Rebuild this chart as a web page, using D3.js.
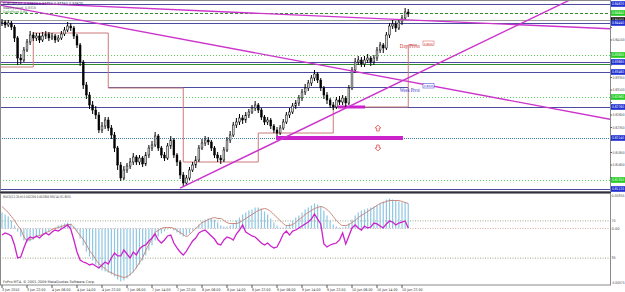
<!DOCTYPE html>
<html><head><meta charset="utf-8">
<script src="https://cdn.jsdelivr.net/npm/d3@7"></script>
<style>body{margin:0;background:#fff;overflow:hidden}svg{display:block;font-family:"DejaVu Sans Condensed","DejaVu Sans",sans-serif}</style>
</head><body><svg id="c" width="625" height="292"></svg>
<script>
const timeLabels = ["3 Jun 2010","3 Jun 22:00","4 Jun 06:00","4 Jun 14:00","4 Jun 22:00","7 Jun 06:00","7 Jun 14:00","7 Jun 22:00","8 Jun 06:00","8 Jun 14:00","8 Jun 22:00","9 Jun 06:00","9 Jun 14:00","9 Jun 22:00","10 Jun 06:00","10 Jun 14:00","10 Jun 22:00"];
const firstOpen = 0.8444;
const closes = [0.8446,0.8440,0.8444,0.8436,0.8414,0.8374,0.8370,0.8390,0.8406,0.8420,
0.8414,0.8418,0.8410,0.8418,0.8422,0.8414,0.8418,0.8410,0.8414,0.8422,
0.8430,0.8438,0.8434,0.8418,0.8400,0.8366,0.8320,0.8300,0.8280,0.8270,
0.8260,0.8230,0.8238,0.8250,0.8234,0.8220,0.8194,0.8160,0.8134,0.8150,
0.8158,0.8166,0.8176,0.8166,0.8174,0.8162,0.8180,0.8194,0.8200,0.8218,
0.8194,0.8180,0.8174,0.8198,0.8210,0.8180,0.8166,0.8140,0.8124,0.8134,
0.8150,0.8160,0.8170,0.8194,0.8204,0.8210,0.8206,0.8194,0.8180,0.8174,
0.8170,0.8190,0.8210,0.8220,0.8240,0.8246,0.8254,0.8250,0.8260,0.8266,
0.8274,0.8280,0.8270,0.8256,0.8246,0.8250,0.8238,0.8230,0.8224,0.8234,
0.8246,0.8260,0.8266,0.8278,0.8284,0.8294,0.8306,0.8314,0.8324,0.8334,
0.8342,0.8330,0.8314,0.8300,0.8290,0.8280,0.8276,0.8290,0.8286,0.8294,
0.8284,0.8314,0.8350,0.8366,0.8370,0.8362,0.8370,0.8374,0.8366,0.8374,
0.8390,0.8400,0.8394,0.8420,0.8438,0.8442,0.8434,0.8446,0.8454,0.8466,
0.8462];
const highs = [0.8452,0.8450,0.8450,0.8448,0.8440,0.8418,0.8382,0.8396,0.8412,0.8428,
0.8426,0.8424,0.8424,0.8426,0.8428,0.8426,0.8424,0.8422,0.8420,0.8428,
0.8436,0.8446,0.8444,0.8438,0.8422,0.8404,0.8370,0.8326,0.8306,0.8288,
0.8278,0.8266,0.8246,0.8256,0.8256,0.8240,0.8226,0.8198,0.8166,0.8158,
0.8164,0.8174,0.8184,0.8180,0.8180,0.8178,0.8186,0.8200,0.8208,0.8226,
0.8222,0.8198,0.8186,0.8204,0.8218,0.8214,0.8184,0.8170,0.8146,0.8140,
0.8156,0.8166,0.8178,0.8200,0.8212,0.8218,0.8216,0.8210,0.8198,0.8186,
0.8180,0.8196,0.8216,0.8228,0.8246,0.8254,0.8262,0.8260,0.8266,0.8272,
0.8280,0.8288,0.8284,0.8274,0.8260,0.8256,0.8254,0.8242,0.8236,0.8240,
0.8252,0.8266,0.8274,0.8284,0.8290,0.8300,0.8312,0.8322,0.8330,0.8340,
0.8350,0.8346,0.8334,0.8318,0.8306,0.8294,0.8286,0.8296,0.8298,0.8300,
0.8298,0.8320,0.8356,0.8374,0.8378,0.8376,0.8378,0.8382,0.8378,0.8380,
0.8396,0.8406,0.8404,0.8426,0.8444,0.8450,0.8448,0.8452,0.8460,0.8474,
0.8472];
const lows = [0.8438,0.8434,0.8436,0.8430,0.8406,0.8360,0.8362,0.8366,0.8386,0.8400,
0.8408,0.8408,0.8404,0.8406,0.8412,0.8408,0.8410,0.8404,0.8406,0.8410,
0.8418,0.8426,0.8428,0.8412,0.8394,0.8358,0.8312,0.8292,0.8272,0.8262,
0.8252,0.8224,0.8224,0.8232,0.8228,0.8212,0.8186,0.8150,0.8128,0.8130,
0.8144,0.8152,0.8160,0.8160,0.8160,0.8156,0.8158,0.8174,0.8188,0.8196,
0.8188,0.8174,0.8168,0.8170,0.8192,0.8174,0.8158,0.8132,0.8118,0.8120,
0.8130,0.8146,0.8154,0.8166,0.8190,0.8198,0.8200,0.8188,0.8174,0.8166,
0.8162,0.8166,0.8186,0.8204,0.8216,0.8234,0.8240,0.8242,0.8244,0.8254,
0.8262,0.8268,0.8264,0.8250,0.8240,0.8240,0.8232,0.8224,0.8218,0.8220,
0.8230,0.8242,0.8254,0.8262,0.8272,0.8278,0.8288,0.8300,0.8308,0.8318,
0.8328,0.8324,0.8308,0.8292,0.8282,0.8274,0.8270,0.8272,0.8280,0.8280,
0.8276,0.8280,0.8310,0.8344,0.8360,0.8356,0.8356,0.8364,0.8358,0.8360,
0.8368,0.8384,0.8384,0.8390,0.8414,0.8432,0.8426,0.8430,0.8440,0.8450,
0.8456];
const macdMain = [0.0016,0.0014,0.0012,0.0008,0.0003,-0.0003,-0.0008,-0.0012,-0.0014,-0.0013,
-0.0011,-0.0009,-0.0007,-0.0006,-0.0004,-0.0003,-0.0001,0.0001,0.0003,0.0004,
0.0005,0.0006,0.0005,0.0002,-0.0003,-0.0010,-0.0017,-0.0023,-0.0028,-0.0032,
-0.0036,-0.0040,-0.0042,-0.0043,-0.0044,-0.0046,-0.0048,-0.0051,-0.0053,-0.0052,
-0.0050,-0.0047,-0.0044,-0.0040,-0.0036,-0.0032,-0.0027,-0.0022,-0.0017,-0.0012,
-0.0008,-0.0005,-0.0003,-0.0001,0.0000,-0.0002,-0.0004,-0.0006,-0.0008,-0.0007,
-0.0005,-0.0002,0.0001,0.0004,0.0007,0.0009,0.0010,0.0010,0.0009,0.0006,
0.0003,0.0002,0.0002,0.0003,0.0005,0.0008,0.0011,0.0014,0.0016,0.0018,
0.0019,0.0021,0.0021,0.0020,0.0017,0.0014,0.0010,0.0006,0.0003,0.0001,
0.0001,0.0003,0.0005,0.0008,0.0011,0.0013,0.0016,0.0019,0.0021,0.0023,
0.0025,0.0024,0.0022,0.0018,0.0013,0.0008,0.0004,0.0002,0.0001,0.0001,
0.0002,0.0005,0.0009,0.0013,0.0016,0.0018,0.0019,0.0020,0.0021,0.0022,
0.0023,0.0025,0.0027,0.0029,0.0030,0.0029,0.0028,0.0027,0.0026,0.0026,
0.0025];
const macdSignal = [0.0022,0.0019,0.0016,0.0012,0.0008,0.0003,-0.0001,-0.0008,-0.0012,-0.0011,
-0.0010,-0.0008,-0.0007,-0.0006,-0.0004,-0.0003,-0.0001,0.0000,0.0001,0.0002,
0.0003,0.0004,0.0004,0.0001,-0.0003,-0.0007,-0.0011,-0.0016,-0.0022,-0.0026,
-0.0031,-0.0035,-0.0038,-0.0040,-0.0043,-0.0044,-0.0046,-0.0047,-0.0048,-0.0049,
-0.0048,-0.0046,-0.0043,-0.0039,-0.0034,-0.0029,-0.0022,-0.0016,-0.0010,-0.0004,
-0.0002,0.0000,0.0001,0.0001,0.0001,0.0000,-0.0002,-0.0004,-0.0006,-0.0008,
-0.0006,-0.0003,0.0000,0.0003,0.0006,0.0007,0.0009,0.0010,0.0011,0.0010,
0.0010,0.0008,0.0006,0.0005,0.0005,0.0005,0.0006,0.0008,0.0010,0.0012,
0.0014,0.0016,0.0018,0.0019,0.0020,0.0019,0.0017,0.0014,0.0011,0.0008,
0.0005,0.0003,0.0003,0.0004,0.0006,0.0009,0.0011,0.0014,0.0016,0.0018,
0.0020,0.0021,0.0022,0.0021,0.0019,0.0016,0.0012,0.0008,0.0005,0.0003,
0.0003,0.0004,0.0006,0.0008,0.0011,0.0013,0.0015,0.0017,0.0019,0.0021,
0.0023,0.0025,0.0026,0.0027,0.0028,0.0028,0.0028,0.0028,0.0027,0.0026,
0.0025];
const rsi = [54.8,57.0,55.9,53.8,44.1,30.1,31.2,40.9,49.5,52.7,
51.6,53.8,51.6,54.8,57.0,54.8,58.1,60.2,59.1,61.3,
63.4,65.6,61.3,49.5,36.6,28.0,25.8,24.7,22.6,23.7,
21.5,19.4,22.6,25.8,23.7,30.1,35.5,32.3,32.3,38.7,
34.4,30.1,36.6,33.3,39.8,43.0,44.1,48.4,51.6,55.9,
49.5,46.2,49.5,53.8,54.8,46.2,40.9,36.6,33.3,37.6,
43.0,48.4,51.6,57.0,59.1,60.2,57.0,53.8,50.5,45.2,
44.1,49.5,52.7,51.6,49.5,55.9,60.2,65.6,58.1,55.9,
53.8,52.7,49.5,46.2,44.1,46.2,43.0,40.9,41.9,48.4,
55.9,59.1,54.8,59.1,60.2,62.4,64.5,66.7,68.8,72.0,
77.4,72.0,66.7,45.2,41.9,44.1,45.2,46.2,49.5,57.0,
45.2,53.8,62.4,65.6,62.4,60.2,64.5,62.4,63.4,67.7,
66.7,64.5,62.4,66.7,69.9,68.8,65.6,67.7,68.8,69.9,
62.4];
const priceTicks = [0.8435,0.8410,0.8385,0.8360,0.8335,0.8310,0.8285,0.8260,0.8235,0.8210,0.8185,0.8160,0.8135];
const levelPrices = [0.8482,0.8464,0.8450,0.8444,0.8380,0.8366,0.8362,0.8346,0.8296,0.8276,0.8214,0.8130,0.8112];
const levelKinds = ["res","dash","bid","res","dot","res","solid","res","dot","res","teal","dot","res"];
const dayStarts = [0,10,34,58,82,106,130];
const dayPivots = [0.8356,0.8424,0.8314,0.8166,0.8224,0.8276,0.8400];
const weekPivot = 0.8316;
const trendA = [[0,0.8486],[160,0.8442]];
const trendB = [[0,0.8479],[160,0.8292]];
const trendC = [[58,0.8117],[122,0.8310]];
const zonePrices = [0.8276,0.8214];
const zoneFrom = [107.5,87.7];
const zoneTo = [116.2,128.3];
const arrowBar = 120.3;
const arrowUpPrice = 0.8234, arrowDownPrice = 0.8194;
const indLevels = [70,30];

const svg = d3.select("#c");
const W = 610;
const x = d3.scaleLinear().domain([0,130]).range([2,408.25]);
const yP = d3.scaleLinear().domain([0.8490,0.8106]).range([0,192]);
const yM = d3.scaleLinear().domain([0.00355,-0.00575]).range([193,286]);
const yR = d3.scaleLinear().domain([100,0]).range([193,286]);

const defs = svg.append("defs");
defs.append("clipPath").attr("id","cm").append("rect").attr("x",0).attr("y",1).attr("width",W).attr("height",191);
defs.append("clipPath").attr("id","ci").append("rect").attr("x",0).attr("y",193).attr("width",W).attr("height",92);

const gm = svg.append("g").attr("clip-path","url(#cm)");
const gi = svg.append("g").attr("clip-path","url(#ci)");

const lvStyle = {
  res:{c:"#4b4ba0",w:1,d:null},
  dash:{c:"#2e8b2e",w:1,d:"3,2"},
  bid:{c:"#a0a0a0",w:1,d:null},
  dot:{c:"#5ccf5c",w:1,d:"1,2"},
  solid:{c:"#2e8b2e",w:1,d:null},
  teal:{c:"#3f7f9f",w:1,d:"1,1"}
};
levelPrices.forEach((p,k)=>{
  const s = lvStyle[levelKinds[k]];
  gm.append("line").attr("x1",0).attr("x2",W).attr("y1",Math.round(yP(p))+0.5).attr("y2",Math.round(yP(p))+0.5)
    .attr("stroke",s.c).attr("stroke-width",s.w).attr("stroke-dasharray",s.d);
});

gm.append("line").attr("x1",x(34)).attr("x2",x(130)).attr("y1",Math.round(yP(weekPivot))+0.5).attr("y2",Math.round(yP(weekPivot))+0.5)
  .attr("stroke","#4b4ba0").attr("stroke-width",1);

const stepPts = [];
dayPivots.forEach((p,k)=>{
  const xs = k===0 ? 0 : x(dayStarts[k]);
  const xe = k<dayPivots.length-1 ? x(dayStarts[k+1]) : x(dayStarts[k])+9;
  stepPts.push([xs,yP(p)],[xe,yP(p)]);
});
gm.append("path").attr("d",d3.line()(stepPts)).attr("fill","none").attr("stroke","#cc7a7a").attr("stroke-width",1);

zonePrices.forEach((p,k)=>{
  gm.append("line").attr("x1",x(zoneFrom[k])).attr("x2",x(zoneTo[k])).attr("y1",yP(p)).attr("y2",yP(p))
    .attr("stroke","#cc22cc").attr("stroke-width",k===0?3:4);
});

const opens = [firstOpen].concat(closes.slice(0,-1));
const cg = gm.append("g");
closes.forEach((c,i)=>{
  const o = opens[i];
  cg.append("line").attr("x1",x(i)).attr("x2",x(i)).attr("y1",yP(highs[i])).attr("y2",yP(lows[i]))
    .attr("stroke","#000").attr("stroke-width",1);
  const top = yP(Math.max(o,c)), bot = yP(Math.min(o,c));
  cg.append("rect").attr("x",x(i)-0.9).attr("width",1.8).attr("y",top).attr("height",Math.max(1,bot-top))
    .attr("fill", c>=o ? "#ddd" : "#000").attr("stroke","#000").attr("stroke-width",0.5);
});

function trend(anchors, i0, i1){
  const f = d3.scaleLinear().domain([anchors[0][0],anchors[1][0]]).range([anchors[0][1],anchors[1][1]]);
  gm.append("line").attr("x1",x(i0)).attr("y1",yP(f(i0))).attr("x2",x(i1)).attr("y2",yP(f(i1)))
    .attr("stroke","#cc33cc").attr("stroke-width",1.4);
}
trend(trendA,-1,200);
trend(trendB,-1,200);
trend(trendC,57,200);

function arrow(cx, cy, up){
  const s = up?-1:1;
  const pts = [[cx-1.3,cy-3*s],[cx+1.3,cy-3*s],[cx+1.3,cy],[cx+3,cy],[cx,cy+3*s],[cx-3,cy],[cx-1.3,cy]];
  gm.append("path").attr("d",d3.line()(pts)+"Z").attr("fill","#fff").attr("stroke","#e05050").attr("stroke-width",0.8);
}
arrow(x(arrowBar), yP(arrowUpPrice), true);
arrow(x(arrowBar), yP(arrowDownPrice), false);

// pivot labels
gm.append("text").attr("x",x(127.3)).attr("y",yP(dayPivots[6])+3).attr("font-family","Liberation Serif").attr("font-size",5.5)
  .attr("fill","#cc3333").attr("textLength",20).attr("lengthAdjust","spacingAndGlyphs").text("Day Pivot");
gm.append("rect").attr("x",423).attr("y",yP(dayPivots[6])-4).attr("width",11).attr("height",4.5).attr("fill","#fff").attr("stroke","#e07070").attr("stroke-width",0.6);
gm.append("text").attr("x",424).attr("y",yP(dayPivots[6])-0.3).attr("font-size",2.8).attr("fill","#cc3333").attr("textLength",9).attr("lengthAdjust","spacingAndGlyphs").text("0.8400");
gm.append("text").attr("x",x(127.3)).attr("y",yP(weekPivot)+4.5).attr("font-family","Liberation Serif").attr("font-size",5.5)
  .attr("fill","#3333cc").attr("textLength",20).attr("lengthAdjust","spacingAndGlyphs").text("Week Pivot");
gm.append("rect").attr("x",423).attr("y",yP(weekPivot)-3.5).attr("width",11).attr("height",4.5).attr("fill","#fff").attr("stroke","#5555dd").attr("stroke-width",0.6);
gm.append("text").attr("x",424).attr("y",yP(weekPivot)+0.2).attr("font-size",2.8).attr("fill","#3333cc").attr("textLength",9).attr("lengthAdjust","spacingAndGlyphs").text("0.8316");

gm.append("text").attr("x",3).attr("y",5).attr("font-size",4).attr("fill","#202060").attr("textLength",80).attr("lengthAdjust","spacingAndGlyphs").text("EURGBP,H1  0.84620 0.84720 0.84560 0.84620");
gm.append("text").attr("x",3).attr("y",9).attr("font-size",3.5).attr("fill","#555").attr("textLength",33).attr("lengthAdjust","spacingAndGlyphs").text("Weekly pivot: 0.8316");
gm.append("text").attr("x",3).attr("y",12.5).attr("font-size",3.5).attr("fill","#2a8a2a").attr("textLength",24).attr("lengthAdjust","spacingAndGlyphs").text("DailyPivot 0.84");

indLevels.forEach(v=>{
  gi.append("line").attr("x1",0).attr("x2",W).attr("y1",yR(v)).attr("y2",yR(v)).attr("stroke","#7f8f6f").attr("stroke-width",0.8).attr("stroke-dasharray","1,1.5");
});
gi.append("line").attr("x1",0).attr("x2",W).attr("y1",yM(0)).attr("y2",yM(0)).attr("stroke","#d79a9a").attr("stroke-width",0.8).attr("stroke-dasharray","1,1.5");
macdMain.forEach((v,i)=>{
  gi.append("line").attr("x1",x(i)).attr("x2",x(i)).attr("y1",yM(0)).attr("y2",yM(v)).attr("stroke","#8ec6e2").attr("stroke-width",1.2);
});
gi.append("path").attr("d",d3.line().x((d,i)=>x(i)).y(d=>yM(d)).curve(d3.curveMonotoneX)(macdSignal)).attr("fill","none").attr("stroke","#c47a6e").attr("stroke-width",0.9);
gi.append("path").attr("d",d3.line().x((d,i)=>x(i)).y(d=>yR(d))(rsi)).attr("fill","none").attr("stroke","#cc22cc").attr("stroke-width",1.3);
gi.append("text").attr("x",3).attr("y",198).attr("font-size",3.5).attr("fill","#333").attr("textLength",68).attr("lengthAdjust","spacingAndGlyphs").text("MACD(12,26,9) 0.002209 0.002806  RSI(14) 61.8031");
gi.append("text").attr("x",3).attr("y",283).attr("font-size",3.5).attr("fill","#333").attr("textLength",92).attr("lengthAdjust","spacingAndGlyphs").text("FxPro MT4, © 2001-2009 MetaQuotes Software Corp.");

svg.append("rect").attr("x",0.5).attr("y",0.5).attr("width",W).attr("height",191).attr("fill","none").attr("stroke","#8a8a8a").attr("stroke-width",1);
svg.append("line").attr("x1",0).attr("x2",W+1).attr("y1",192.5).attr("y2",192.5).attr("stroke","#303040").attr("stroke-width",1.5);
svg.append("rect").attr("x",0.5).attr("y",193.5).attr("width",W).attr("height",91.5).attr("fill","none").attr("stroke","#8a8a8a").attr("stroke-width",1);

const boxFill = {res:"#1f2fd0",dash:"#22cc22",bid:"#111",dot:"#22cc22",solid:null,teal:"#1f2fd0"};
const boxY = levelPrices.filter((p,k)=>boxFill[levelKinds[k]]).map(p=>yP(p));
priceTicks.forEach(p=>{
  svg.append("line").attr("x1",W).attr("x2",W+2).attr("y1",yP(p)).attr("y2",yP(p)).attr("stroke","#666");
  if (boxY.some(b=>Math.abs(b-yP(p))<5)) return;
  svg.append("text").attr("x",W+2.5).attr("y",yP(p)+1.3).attr("font-size",3.6).attr("fill","#444").attr("textLength",12).attr("lengthAdjust","spacingAndGlyphs").text(p.toFixed(5));
});
levelPrices.forEach((p,k)=>{
  const f = boxFill[levelKinds[k]];
  if(!f) return;
  svg.append("rect").attr("x",W+1).attr("y",yP(p)-2.8).attr("width",14).attr("height",5.6).attr("fill",f);
  svg.append("text").attr("x",W+2).attr("y",yP(p)+1.3).attr("font-size",3.6).attr("fill","#fff").attr("textLength",12).attr("lengthAdjust","spacingAndGlyphs").text(p.toFixed(5));
});
const indAxisVals = [[yM.domain()[0].toFixed(5),197],["70",yR(70)+1.3],["0.00",yM(0)+1.3],["30",yR(30)+1.3],[yM.domain()[1].toFixed(5),283.5]];
indAxisVals.forEach(d=>{
  svg.append("text").attr("x",W+1.5).attr("y",d[1]).attr("font-size",3.6).attr("fill","#444")
    .attr("textLength",d[0].length>4?13:(d[0].length*2)).attr("lengthAdjust","spacingAndGlyphs").text(d[0]);
});

timeLabels.forEach((t,k)=>{
  const xi = x(k*8);
  svg.append("line").attr("x1",xi).attr("x2",xi).attr("y1",285).attr("y2",288).attr("stroke","#555");
  svg.append("text").attr("x",xi).attr("y",291).attr("font-size",3.6).attr("fill","#333").text(t);
});
</script></body></html>
